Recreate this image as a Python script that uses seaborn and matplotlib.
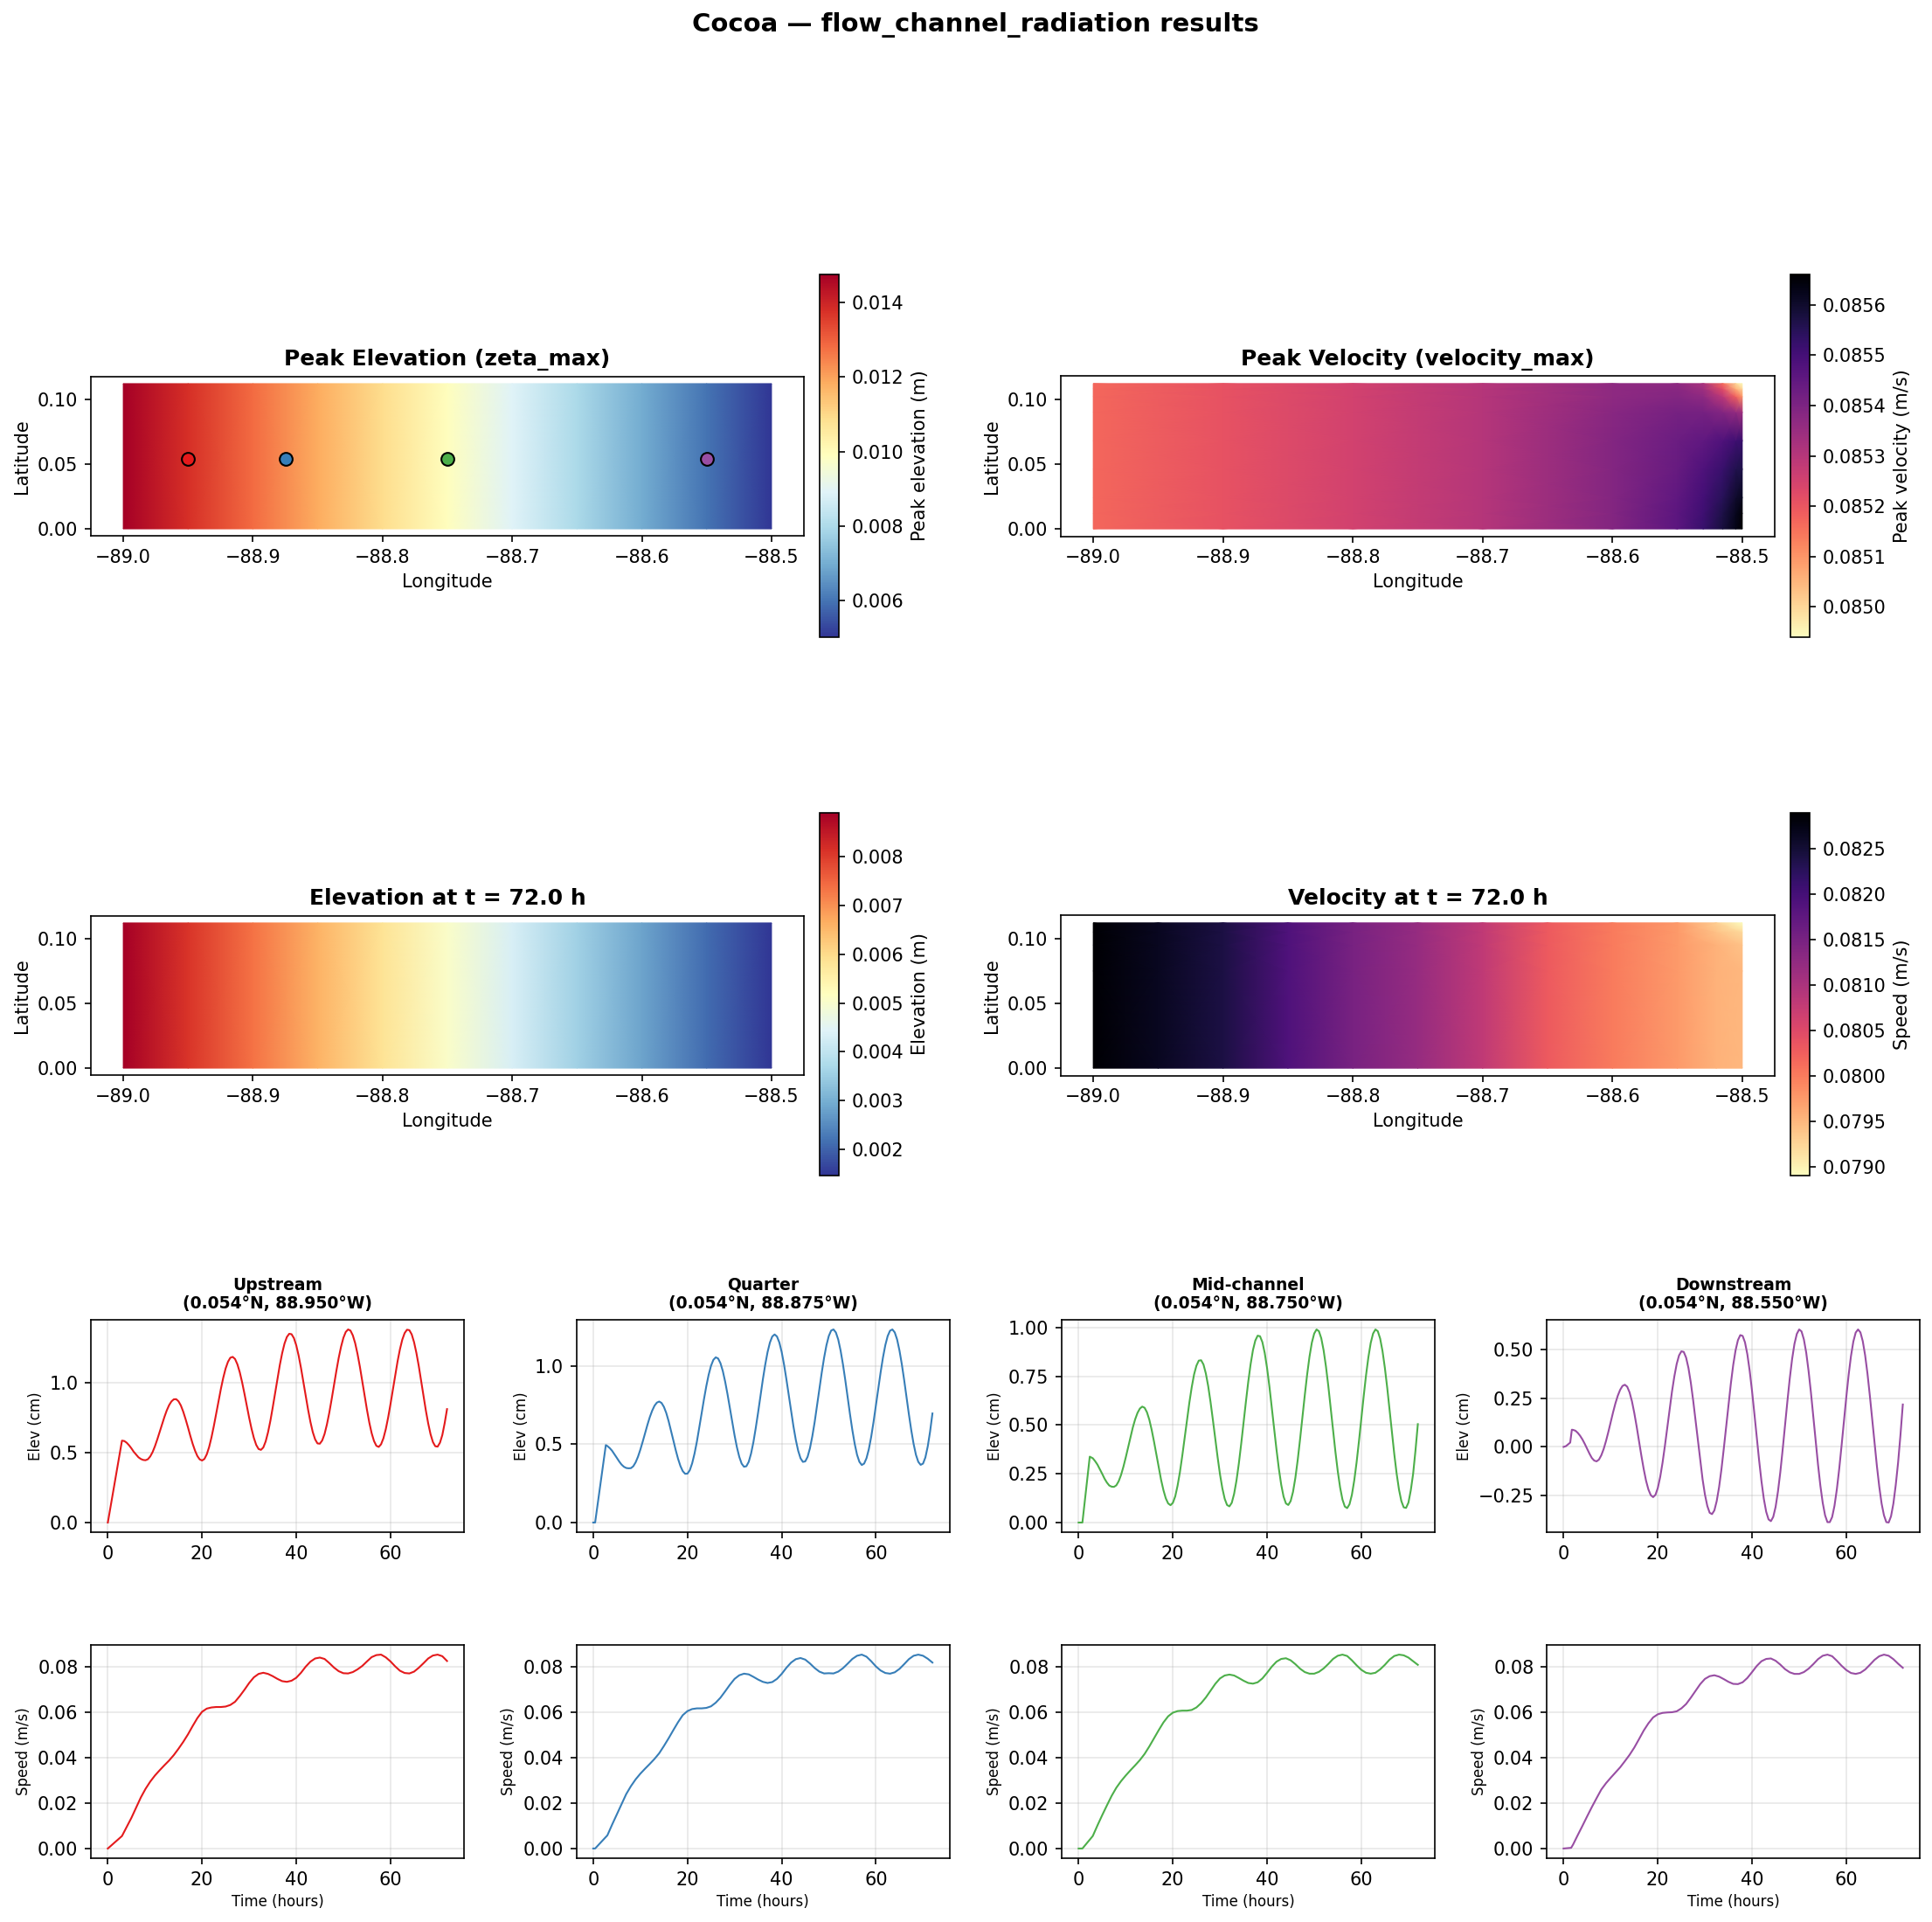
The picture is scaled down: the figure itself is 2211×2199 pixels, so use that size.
import numpy as np
import matplotlib
matplotlib.use("Agg")
import matplotlib.pyplot as plt
import seaborn as sns

W, H = 2211, 2199

# map grids
lon = [-89.0, -88.95, -88.9, -88.85, -88.8, -88.75, -88.7, -88.65, -88.6, -88.55, -88.5]
lat = [0.0, 0.112]
zeta_max = [0.01476, 0.0138, 0.01283, 0.01185, 0.01088, 0.0099, 0.00893, 0.00795, 0.00698, 0.0060, 0.00501]
zeta_72 = [0.0089, 0.0081, 0.00735, 0.0066, 0.00582, 0.00505, 0.00432, 0.00358, 0.00284, 0.00212, 0.00146]

vmax_lon = [-89.0, -88.9, -88.8, -88.7, -88.6, -88.55, -88.53, -88.515, -88.505, -88.5]
vmax_lat = [0.0, 0.012, 0.024, 0.046, 0.068, 0.09, 0.102, 0.108, 0.112]
velocity_max = [
    [.08517, .08521, .08525, .0853, .08539, .08546, .08552, .08558, .08563, .08566],
    [.08517, .08521, .08525, .0853, .08539, .08546, .08551, .08557, .08562, .08565],
    [.08517, .08521, .08525, .0853, .08539, .08545, .08550, .08555, .08560, .08562],
    [.08517, .08521, .08525, .0853, .08539, .08544, .08548, .08552, .08556, .08557],
    [.08517, .08521, .08525, .0853, .08539, .08543, .08545, .08548, .08551, .08552],
    [.08517, .08521, .08525, .0853, .08538, .08541, .08541, .08539, .08536, .08534],
    [.08517, .08521, .08525, .0853, .08537, .08539, .08537, .08529, .08518, .08510],
    [.08517, .08521, .08525, .0853, .08537, .08538, .08534, .08522, .08506, .08500],
    [.08517, .08521, .08525, .0853, .08537, .08537, .08532, .08516, .08500, .08494],
]

v72_lon = [-89.0, -88.95, -88.9, -88.85, -88.8, -88.75, -88.7, -88.65, -88.6, -88.55, -88.52, -88.5]
v72_lat = [0.0, 0.075, 0.095, 0.105, 0.112]
velocity_72 = [
    [.0829, .08265, .0824, .0819, .0815, .0812, .0808, .0803, .0800, .07975, .07955, .0795],
    [.0829, .08265, .0824, .0819, .0815, .0812, .0808, .0803, .0800, .07975, .07955, .0795],
    [.0829, .08265, .0824, .0819, .0815, .0812, .0808, .0803, .0800, .07975, .07955, .0794],
    [.0829, .08265, .0824, .0819, .0815, .0812, .0808, .0803, .0800, .07975, .0794, .0792],
    [.0829, .08265, .0824, .0819, .0815, .0812, .0808, .0803, .0800, .07975, .0793, .0789],
]

# stations
names = ["Upstream", "Quarter", "Mid-channel", "Downstream"]
st_lat = [0.054, 0.054, 0.054, 0.054]
st_lon = [-88.95, -88.875, -88.75, -88.55]
colors = ["#e41a1c", "#377eb8", "#4daf4a", "#984ea3"]

# elevation read every half hour from t = 3, speed every hour, the start of each run kept apart
elev_hours = [h / 2 for h in range(6, 145)]
speed_hours = list(range(3, 73))

elev_head_t = [[0], [0, 0.4, 2.67], [0, 0.8, 2.36], [0, 0.5, 1.4, 1.75, 2, 2.5]]
elev_head = [[0.0], [0.0, 0.0, 0.494], [0.0, 0.0, 0.338], [0.0, 0.004, 0.022, 0.088, 0.087, 0.083]]

elev_up = [
    .585, .582, .570, .552, .53, .505, .485, .466, .454, .447,
    .445, .452, .472, .503, .545, .594, .647, .701, .753, .80,
    .838, .865, .88, .881, .866, .836, .792, .739, .681, .62,
    .563, .514, .475, .451, .443, .454, .487, .539, .608, .689,
    .777, .868, .955, 1.034, 1.10, 1.148, 1.177, 1.183, 1.168, 1.130,
    1.074, 1.002, .92, .834, .748, .67, .604, .554, .525, .519,
    .536, .579, .644, .726, .822, .924, 1.026, 1.124, 1.209, 1.278,
    1.325, 1.348, 1.345, 1.317, 1.265, 1.192, 1.104, 1.006, .905, .807,
    .719, .646, .594, .565, .563, .586, .632, .70, .783, .879,
    .98, 1.081, 1.175, 1.255, 1.319, 1.361, 1.379, 1.371, 1.337, 1.281,
    1.204, 1.113, 1.012, .907, .806, .714, .638, .582, .548, .54,
    .559, .602, .667, .75, .846, .949, 1.053, 1.151, 1.237, 1.306,
    1.353, 1.377, 1.374, 1.344, 1.288, 1.211, 1.118, 1.013, .905, .801,
    .708, .631, .575, .545, .542, .57, .625, .71, .81,
]
elev_quarter = [
    .488, .475, .458, .436, .413, .39, .37, .356, .348, .346,
    .347, .359, .384, .42, .465, .516, .57, .623, .672, .713,
    .745, .765, .772, .763, .738, .699, .647, .587, .525, .463,
    .407, .361, .328, .311, .312, .334, .378, .44, .516, .604,
    .695, .786, .87, .943, 1.0, 1.038, 1.054, 1.047, 1.017, .967,
    .899, .819, .731, .641, .556, .48, .419, .376, .356, .359,
    .387, .44, .513, .604, .703, .809, .912, 1.006, 1.087, 1.148,
    1.187, 1.20, 1.187, 1.149, 1.088, 1.008, .914, .813, .711, .613,
    .527, .458, .41, .387, .39, .419, .474, .55, .641, .745,
    .852, .956, 1.051, 1.131, 1.19, 1.225, 1.232, 1.213, 1.168, 1.098,
    1.01, .909, .80, .691, .59, .502, .432, .387, .367, .376,
    .41, .468, .547, .642, .746, .854, .958, 1.053, 1.132, 1.19,
    1.224, 1.232, 1.213, 1.168, 1.098, 1.01, .909, .80, .691, .59,
    .502, .432, .387, .368, .376, .415, .485, .58, .696,
]
elev_mid = [
    .33, .315, .297, .274, .25, .225, .205, .19, .184, .183,
    .191, .212, .244, .286, .334, .386, .438, .488, .53, .563,
    .585, .595, .589, .566, .528, .476, .415, .349, .282, .219,
    .166, .124, .098, .089, .101, .134, .189, .259, .343, .434,
    .527, .615, .694, .76, .805, .831, .833, .811, .765, .70,
    .618, .526, .43, .335, .248, .176, .122, .09, .083, .101,
    .147, .215, .302, .403, .511, .619, .722, .812, .885, .934,
    .959, .956, .926, .87, .792, .697, .591, .481, .374, .276,
    .194, .133, .098, .09, .11, .157, .229, .321, .427, .54,
    .653, .759, .851, .923, .97, .991, .982, .946, .884, .80,
    .70, .589, .475, .364, .264, .18, .118, .082, .074, .094,
    .142, .216, .309, .417, .532, .647, .755, .848, .922, .97,
    .991, .982, .944, .88, .794, .692, .578, .463, .351, .251,
    .169, .11, .078, .075, .102, .165, .25, .37, .505,
]
elev_down = [
    .072, .057, .038, .015, -.01, -.035, -.057, -.07, -.074, -.065,
    -.043, -.011, .03, .077, .127, .177, .223, .262, .292, .312,
    .318, .308, .279, .234, .174, .105, .03, -.044, -.113, -.173,
    -.218, -.247, -.257, -.245, -.21, -.154, -.081, .005, .098, .192,
    .282, .36, .424, .468, .489, .486, .457, .404, .329, .238,
    .136, .031, -.072, -.166, -.244, -.302, -.337, -.344, -.325, -.277,
    -.206, -.115, -.009, .103, .217, .324, .419, .494, .546, .572,
    .568, .535, .474, .389, .285, .169, .048, -.069, -.176, -.266,
    -.332, -.371, -.38, -.358, -.307, -.228, -.129, -.013, .11, .233,
    .349, .449, .527, .578, .601, .591, .55, .482, .388, .278,
    .156, .031, -.09, -.198, -.286, -.35, -.385, -.385, -.359, -.301,
    -.217, -.113, .006, .13, .254, .368, .465, .539, .585, .601,
    .586, .541, .469, .375, .263, .143, .02, -.098, -.203, -.29,
    -.35, -.385, -.387, -.355, -.29, -.195, -.08, .06, .217,
]

speed_head_t = [[0], [0, 0.4], [0, 0.8], [0, 1.6, 2]]
speed_head = [[0.0], [0.0, 0.0], [0.0, 0.0], [0.0, 0.0003, 0.0017]]

speed_up = [
    .0055, .0095, .0135, .0180, .0225, .0263, .0295, .0322, .0345, .0367,
    .0388, .0412, .0440, .0470, .0503, .0540, .0575, .0603, .0617, .0622,
    .0624, .0624, .0626, .0633, .0647, .0672, .0700, .0730, .0755, .0770,
    .0775, .0770, .0760, .0748, .0738, .0735, .0740, .0753, .0775, .0802,
    .0824, .0838, .0842, .0836, .0818, .0798, .0782, .0773, .0772, .0778,
    .0790, .0805, .0825, .0844, .0853, .0855, .0843, .0825, .0803, .0784,
    .0774, .0772, .0780, .0797, .0817, .0838, .0851, .0855, .0848, .0827,
]
speed_quarter = [
    .0058, .0105, .0150, .0195, .0240, .0275, .0305, .0330, .0352, .0373,
    .0395, .0420, .0452, .0486, .0522, .0557, .0588, .0606, .0615, .0618,
    .0618, .0620, .0627, .0643, .0665, .0693, .0722, .0748, .0764, .0771,
    .0768, .0757, .0745, .0735, .0730, .0734, .0748, .0770, .0797, .0820,
    .0835, .0840, .0833, .0816, .0796, .0780, .0772, .0773, .0772, .0780,
    .0795, .0815, .0836, .0850, .0855, .0846, .0826, .0803, .0785, .0774,
    .0771, .0777, .0792, .0813, .0835, .0850, .0855, .0850, .0837, .0820,
]
speed_mid = [
    .0055, .0102, .0147, .0190, .0232, .0268, .0297, .0322, .0345, .0367,
    .0390, .0417, .0450, .0486, .0522, .0556, .0583, .0599, .0606, .0608,
    .0608, .0611, .0622, .0641, .0666, .0696, .0726, .0750, .0763, .0767,
    .0763, .0752, .0740, .0730, .0727, .0733, .0750, .0775, .0802, .0824,
    .0836, .0839, .0830, .0813, .0793, .0778, .0771, .0771, .0779, .0794,
    .0814, .0836, .0850, .0855, .0849, .0830, .0808, .0788, .0775, .0771,
    .0775, .0790, .0810, .0833, .0849, .0855, .0852, .0842, .0826, .0810,
]
speed_down = [
    .0059, .0100, .0142, .0183, .0222, .0260, .0288, .0312, .0335, .0358,
    .0385, .0413, .0445, .0482, .0520, .0552, .0578, .0592, .0598, .0600,
    .0601, .0605, .0618, .0637, .0665, .0695, .0725, .0748, .0760, .0764,
    .0758, .0747, .0735, .0726, .0725, .0733, .0752, .0778, .0805, .0826,
    .0836, .0838, .0828, .0811, .0791, .0777, .0770, .0770, .0778, .0793,
    .0813, .0835, .0850, .0855, .0848, .0828, .0806, .0787, .0774, .0770,
    .0775, .0789, .0810, .0832, .0848, .0855, .0850, .0835, .0815, .0797,
]
elev_tails = [elev_up, elev_quarter, elev_mid, elev_down]
speed_tails = [speed_up, speed_quarter, speed_mid, speed_down]


def px_axes(x0, x1, y0, y1):
    # pixel box of the reference, y counted from the top
    return fig.add_axes([x0 / W, 1 - y1 / H, (x1 - x0) / W, (y1 - y0) / H])


def draw_map(box, cbox, xs, ys, field, cmap, vmin, vmax, title, label):
    ax = px_axes(*box)
    X, Y = np.meshgrid(xs, ys)
    mesh = ax.pcolormesh(X, Y, field, cmap=cmap, vmin=vmin, vmax=vmax, shading="gouraud")
    ax.set_xlim(-89.025, -88.475)
    ax.set_ylim(-0.0056, 0.1176)
    ax.set_aspect("equal", adjustable="box")
    ax.set_yticks([0.0, 0.05, 0.10])
    ax.set_xlabel("Longitude")
    ax.set_ylabel("Latitude")
    ax.set_title(title, fontsize=12, fontweight="bold")
    cax = px_axes(*cbox)
    fig.colorbar(mesh, cax=cax, label=label)
    return ax


fig = plt.figure(figsize=(W / 150, H / 150), dpi=150)
fig.suptitle("Cocoa — flow_channel_radiation results", fontsize=14, fontweight="bold", x=0.505, y=0.987, va="center")

left_box, right_box = (104, 920), (1214, 2031)
left_cb, right_cb = (938, 960), (2049, 2071)

ax = draw_map((*left_box, 430, 614), (*left_cb, 314, 729), lon, lat, np.tile(zeta_max, (2, 1)),
              "RdYlBu_r", 0.00501, 0.01476, "Peak Elevation (zeta_max)", "Peak elevation (m)")
for i in range(4):
    sns.scatterplot(x=[st_lon[i]], y=[st_lat[i]], color=colors[i], s=50, edgecolor="black",
                    linewidth=1, ax=ax, zorder=5, legend=False)
ax.set_xlabel("Longitude")
ax.set_ylabel("Latitude")

draw_map((*right_box, 430, 614), (*right_cb, 314, 729), vmax_lon, vmax_lat, velocity_max,
         "magma_r", 0.08494, 0.08566, "Peak Velocity (velocity_max)", "Peak velocity (m/s)")
draw_map((*left_box, 1047, 1231), (*left_cb, 930, 1345), lon, lat, np.tile(zeta_72, (2, 1)),
         "RdYlBu_r", 0.00146, 0.0089, "Elevation at t = 72.0 h", "Elevation (m)")
draw_map((*right_box, 1047, 1231), (*right_cb, 930, 1345), v72_lon, v72_lat, velocity_72,
         "magma_r", 0.0789, 0.08289, "Velocity at t = 72.0 h", "Speed (m/s)")

col_x = [104, 659.5, 1215, 1770]
for i in range(4):
    x0, x1 = col_x[i], col_x[i] + 427
    ax1 = px_axes(x0, x1, 1510, 1753)
    sns.lineplot(x=elev_head_t[i] + elev_hours, y=elev_head[i] + elev_tails[i], color=colors[i], linewidth=1, ax=ax1)
    ax1.set_ylabel("Elev (cm)", fontsize=8, labelpad=3)
    ax1.grid(True, alpha=0.3)
    label = "W" if st_lon[i] < 0 else "E"
    ax1.set_title(f"{names[i]}\n({st_lat[i]:.3f}°N, {abs(st_lon[i]):.3f}°{label})", fontsize=9, fontweight="bold")

    ax2 = px_axes(x0, x1, 1882, 2126)
    sns.lineplot(x=speed_head_t[i] + speed_hours, y=speed_head[i] + speed_tails[i], color=colors[i], linewidth=1, ax=ax2)
    ax2.set_ylabel("Speed (m/s)", fontsize=8, labelpad=3.5)
    ax2.set_xlabel("Time (hours)", fontsize=8, labelpad=3)
    ax2.grid(True, alpha=0.3)

fig.savefig("out.png", dpi=150)
